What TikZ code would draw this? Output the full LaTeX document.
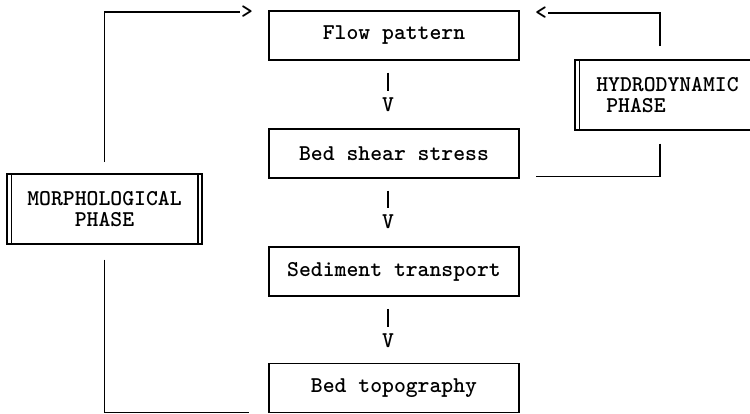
\documentclass[tikz,border=0pt]{standalone}
\usepackage{tikz}
\newcommand\twfont{\ttfamily\bfseries\fontsize{22.6}{21}\selectfont}

\begin{document}
\begin{tikzpicture}[x=1pt,y=-1pt,line width=1.5pt,
        stage/.style={draw, minimum width=250pt, minimum height=49pt, font=\twfont},
        phase/.style={draw, minimum height=70pt, font=\twfont},
        tw/.style={font=\twfont, inner sep=0pt}]
        \useasboundingbox (0,0) rectangle (750,414);
        \clip (0,0) rectangle (750,414);

        \node[stage] (flow) at (394,35.5) {Flow pattern};
        \node[stage] (shear) at (394,153.5) {Bed shear stress};
        \node[stage] (sediment) at (394,271.5) {Sediment transport};
        \node[stage] (topo) at (394,388) {Bed topography};

        \node[phase, minimum width=195pt, align=center] (morph) at (104.5,209) {MORPHOLOGICAL\\PHASE};
        \node[phase, minimum width=185pt, align=left] (hydro) at (667.5,95) {HYDRODYNAMIC\\\hspace*{10pt}PHASE};

        % double sides
        \draw ([xshift=5pt]morph.north west) -- ([xshift=5pt]morph.south west);
        \draw ([xshift=-5pt]morph.north east) -- ([xshift=-5pt]morph.south east);
        \draw ([xshift=5pt]hydro.north west) -- ([xshift=5pt]hydro.south west);

        \node[tw] (v1) at ([xshift=-6pt,yshift=-44pt]flow.south) {V};
        \node[tw] (v2) at ([xshift=-6pt,yshift=-43pt]shear.south) {V};
        \node[tw] (v3) at ([xshift=-6pt,yshift=-44pt]sediment.south) {V};
        \node[tw] (gt) at (247,12) {>};
        \node[tw] (lt) at (541,13) {<};

        \draw ([xshift=-6pt,yshift=-12pt]flow.south) -- ([yshift=6pt]v1.north);
        \draw ([xshift=-6pt,yshift=-12pt]shear.south) -- ([yshift=6pt]v2.north);
        \draw ([xshift=-6pt,yshift=-12pt]sediment.south) -- ([yshift=6pt]v3.north);

        \draw ([yshift=11pt]morph.north) |- (gt.west);
        \draw ([yshift=-15pt]morph.south) |- ([shift={(-19pt,1pt)}]topo.south west);
        \draw ([xshift=-7.5pt,yshift=13pt]hydro.north) |- (lt.east);
        \draw ([xshift=-7.5pt,yshift=-13pt]hydro.south) |- ([shift={(16pt,2pt)}]shear.south east);
    \end{tikzpicture}
\end{document}
